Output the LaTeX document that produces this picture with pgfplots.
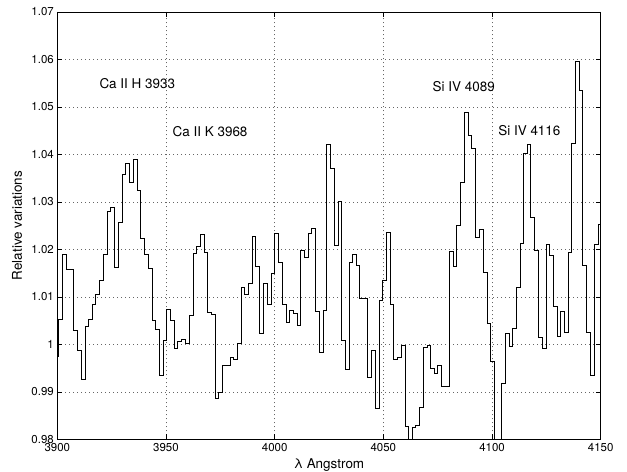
\documentclass[border=0pt]{standalone}
\usepackage{pgfplots}
\pgfplotsset{compat=1.18}
\usepackage{fontspec}
\setmainfont{TeX Gyre Heros}
\begin{document}
\begin{tikzpicture}
\begin{axis}[
  scale only axis, width=543.4bp, height=427.3bp,
  xmin=3900, xmax=4150, ymin=0.98, ymax=1.07,
  xtick={3900,3950,4000,4050,4100,4150},
  xticklabels={3900,3950,4000,4050,4100,4150},
  ytick={0.98,0.99,1,1.01,1.02,1.03,1.04,1.05,1.06,1.07},
  yticklabels={0.98,0.99,1,1.01,1.02,1.03,1.04,1.05,1.06,1.07},
  ticklabel style={font=\fontsize{11.5}{13}\selectfont},
  xticklabel style={yshift=-1bp},
  grid=major,
  major grid style={black!60, line width=0.5bp, dash pattern=on 0.8bp off 3.2bp},
  axis line style={line width=0.8bp},
  tick style={black, line width=0.6bp}, major tick length=5bp,
  xlabel={λ  Angstrom}, ylabel={Relative  variations},
  label style={font=\fontsize{13.5}{15}\selectfont},
  xlabel style={at={(axis description cs:0.5,-0.045)}, anchor=north, inner sep=0pt},
  ylabel style={at={(axis description cs:-0.074,0.5)}, anchor=center, inner sep=0pt},
]
\addplot[const plot, black, line width=0.9bp] table {
x y
3900.0 0.9975
3900.7 1.0053
3902.4 1.0190
3904.2 1.0157
3905.8 1.0157
3907.5 1.0029
3909.2 0.9988
3911.0 0.9925
3912.9 1.0038
3914.4 1.0053
3916.0 1.0084
3917.7 1.0105
3919.4 1.0134
3921.3 1.0190
3923.0 1.0279
3924.6 1.0288
3926.3 1.0162
3928.1 1.0257
3930.0 1.0357
3931.5 1.0380
3933.0 1.0342
3935.0 1.0390
3936.7 1.0324
3938.4 1.0224
3940.2 1.0190
3941.9 1.0160
3943.7 1.0050
3945.3 1.0032
3947.1 0.9935
3948.8 1.0009
3950.3 1.0073
3952.2 1.0050
3953.9 0.9992
3955.5 1.0007
3957.2 1.0011
3959.1 1.0002
3960.8 1.0061
3962.5 1.0192
3964.1 1.0206
3965.7 1.0231
3967.5 1.0194
3969.2 1.0068
3971.0 1.0063
3972.6 0.9885
3974.3 0.9899
3976.1 0.9955
3977.8 0.9955
3979.5 0.9972
3981.0 0.9968
3982.8 1.0001
3984.5 1.0120
3986.2 1.0105
3987.9 1.0129
3989.6 1.0228
3991.3 1.0164
3993.1 1.0022
3994.7 1.0129
3996.5 1.0085
3998.3 1.0149
4000.0 1.0233
4001.8 1.0173
4003.5 1.0084
4005.2 1.0047
4006.9 1.0071
4008.6 1.0065
4010.3 1.0040
4012.0 1.0198
4013.7 1.0184
4015.5 1.0234
4017.0 1.0245
4018.8 1.0069
4020.5 0.9983
4022.3 1.0072
4024.0 1.0421
4025.7 1.0371
4027.5 1.0208
4029.2 1.0301
4030.8 1.0009
4032.5 0.9947
4034.3 1.0172
4036.0 1.0189
4037.5 1.0166
4039.1 1.0097
4040.9 1.0097
4042.7 0.9930
4044.5 0.9988
4046.3 0.9865
4048.0 1.0093
4049.7 1.0134
4051.3 1.0235
4053.1 1.0084
4054.7 0.9968
4056.5 0.9972
4058.2 0.9998
4060.0 0.9826
4061.6 0.9790
4063.2 0.9825
4065.0 0.9830
4066.5 0.9868
4068.3 0.9994
4070.1 0.9998
4071.7 0.9950
4073.4 0.9939
4075.1 0.9956
4076.9 0.9912
4078.6 0.9912
4080.3 1.0195
4082.2 1.0163
4083.8 1.0251
4085.6 1.0342
4087.5 1.0488
4089.2 1.0439
4090.7 1.0412
4092.5 1.0225
4094.2 1.0242
4095.9 1.0151
4097.7 1.0045
4099.4 0.9964
4101.1 0.9750
4102.7 0.9750
4104.3 0.9917
4106.0 1.0023
4107.8 0.9995
4109.5 1.0033
4111.2 1.0120
4112.9 1.0212
4114.6 1.0402
4116.3 1.0420
4117.9 1.0268
4119.6 1.0197
4121.4 1.0015
4123.2 0.9992
4124.9 1.0211
4126.6 1.0187
4128.2 1.0080
4130.0 1.0017
4131.6 1.0070
4133.2 1.0026
4135.0 1.0193
4136.7 1.0424
4138.5 1.0596
4140.1 1.0535
4141.8 1.0167
4143.6 1.0025
4145.4 0.9935
4147.0 1.0210
4148.8 1.0253
4150.0 1.0253
};
\node[font=\fontsize{13.5}{15}\selectfont, inner sep=0pt] at (axis cs:3936.8,1.0549) {Ca II H 3933};
\node[font=\fontsize{13.5}{15}\selectfont, inner sep=0pt] at (axis cs:3970.3,1.0449) {Ca II K 3968};
\node[font=\fontsize{13.5}{15}\selectfont, inner sep=0pt] at (axis cs:4087.0,1.0542) {Si IV 4089};
\node[font=\fontsize{13.5}{15}\selectfont, inner sep=0pt] at (axis cs:4117.2,1.0450) {Si IV 4116};
\end{axis}
\pgfresetboundingbox
\path[use as bounding box] ([xshift=-57.3bp,yshift=-32.7bp]current axis.south west) rectangle ([xshift=26.3bp,yshift=12bp]current axis.north east);
\end{tikzpicture}
\end{document}
